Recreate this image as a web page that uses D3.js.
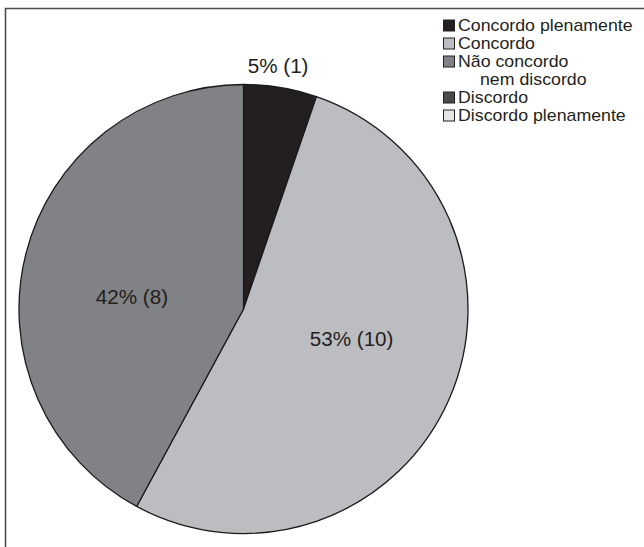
<!DOCTYPE html>
<html>
<head>
<meta charset="utf-8">
<script src="https://cdn.jsdelivr.net/npm/d3@7/dist/d3.min.js"></script>
<style>
  html, body { margin: 0; padding: 0; background: #fff; }
  svg { display: block; font-family: "Liberation Sans", Arial, Helvetica, sans-serif; }
</style>
</head>
<body>
<svg id="chart" width="644" height="547"></svg>
<script>
// Answer categories (legend order) and number of respondents per category
const categories = ["Concordo plenamente", "Concordo", "Não concordo nem discordo", "Discordo", "Discordo plenamente"];
const legendLines = [["Concordo plenamente"], ["Concordo"], ["Não concordo", "nem discordo"], ["Discordo"], ["Discordo plenamente"]];
const counts = [1, 10, 8, 0, 0];
const percentLabels = ["5%", "53%", "42%", "0%", "0%"];
const fills = ["#231f20", "#bcbdc0", "#808285", "#4a4a4c", "#e4e5e6"];

const svg = d3.select("#chart");
const W = 644, H = 547;

// Frame around the figure (open on right and bottom edges)
svg.append("path")
  .attr("d", `M5.5,${H + 2} L5.5,8.5 L${W + 2},8.5`)
  .attr("fill", "none")
  .attr("stroke", "#4d4d4d")
  .attr("stroke-width", 1.6);

const cx = 243.5, cy = 309, R = 224.5;

const data = categories.map((c, i) => ({ name: c, value: counts[i], pct: percentLabels[i], fill: fills[i] }));

const pie = d3.pie().sort(null).value(d => d.value);
const arcs = pie(data);
const arc = d3.arc().innerRadius(0).outerRadius(R);

const g = svg.append("g").attr("transform", `translate(${cx},${cy})`);

g.selectAll("path.slice")
  .data(arcs.filter(a => a.data.value > 0))
  .join("path")
  .attr("class", "slice")
  .attr("d", arc)
  .attr("fill", d => d.data.fill)
  .attr("stroke", "#1a1a1a")
  .attr("stroke-width", 1.3)
  .attr("stroke-linejoin", "round");

// Value labels: the small slice is labelled just outside the rim,
// larger slices inside, turned a little back from the slice's middle.
const labelTurn = -0.14;
function labelPos(d) {
  const span = d.endAngle - d.startAngle;
  const mid = (d.startAngle + d.endAngle) / 2;
  if (span < 0.5) {
    const r = R + 22;
    return [r * Math.sin(mid) - 6, -r * Math.cos(mid)];
  }
  const a = mid + labelTurn, r = R * 0.5;
  return [r * Math.sin(a), -r * Math.cos(a)];
}

g.selectAll("text.val")
  .data(arcs.filter(a => a.data.value > 0))
  .join("text")
  .attr("class", "val")
  .attr("transform", d => {
    const [x, y] = labelPos(d);
    return `translate(${x},${y}) scale(1.06,1)`;
  })
  .attr("text-anchor", "middle")
  .attr("dominant-baseline", "central")
  .attr("font-size", 19.5)
  .attr("fill", "#231f20")
  .text(d => `${d.data.pct} (${d.data.value})`);

// Legend
const legend = svg.append("g").attr("transform", "translate(443,0)");
const rowH = 18;
let row = 0;
legendLines.forEach((lines, i) => {
  const y0 = 25.5 + row * rowH;
  legend.append("rect")
    .attr("x", 0.5).attr("y", y0 - 5.5)
    .attr("width", 11).attr("height", 11)
    .attr("fill", fills[i])
    .attr("stroke", "#231f20")
    .attr("stroke-width", 1);
  lines.forEach((t, j) => {
    legend.append("text")
      .attr("transform", `translate(${j === 0 ? 15 : 37},${y0 + j * rowH}) scale(1.11,1)`)
      .attr("dominant-baseline", "central")
      .attr("font-size", 16)
      .attr("fill", "#231f20")
      .text(t);
  });
  row += lines.length;
});
</script>
</body>
</html>
